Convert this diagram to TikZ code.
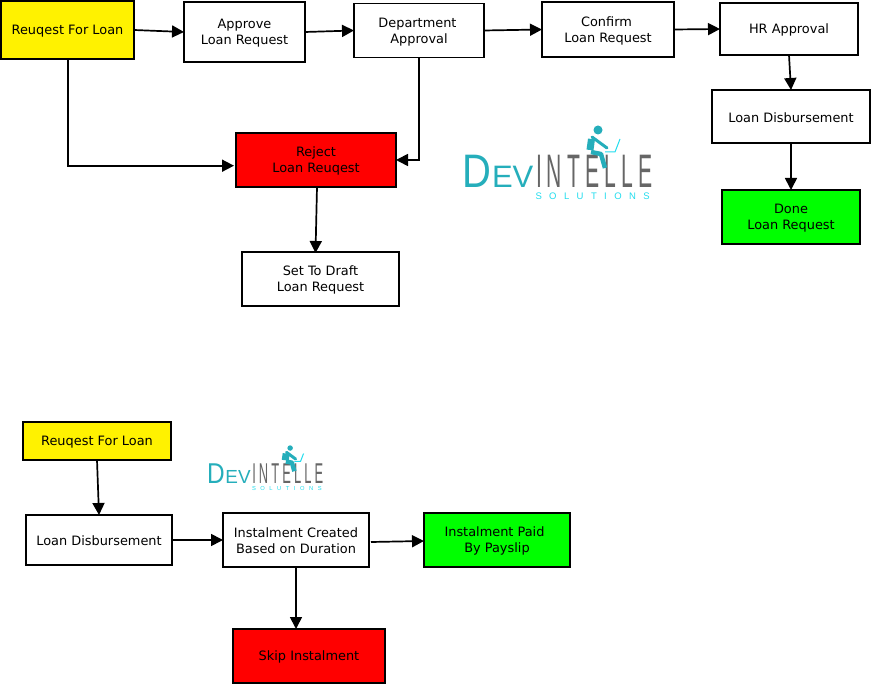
\documentclass[tikz,border=0pt]{standalone}
\usepackage{fontspec}
\setmainfont{DejaVu Sans}
\newfontfamily\logofont{Liberation Sans}
\usetikzlibrary{arrows.meta}
\definecolor{logoteal}{HTML}{25AEBB}
\definecolor{logogrey}{HTML}{666666}
\definecolor{logocyan}{HTML}{22DDEE}
\newcommand{\lowerline}{\rule{0pt}{12pt}}
\tikzset{
  flowbox/.style={draw=black,line width=1.5pt,fill=white,align=center,inner sep=0pt,outer sep=0pt,
    font=\fontsize{12.9}{16}\selectfont,text=black,execute at begin node={\rule{0pt}{11.5pt}}},
  arrowline/.style={draw=black,line width=1.7pt,-{Triangle[length=12pt,width=12pt]}},
  pics/devlogo/.style={code={
    \node[logotext,text=logoteal,anchor=base west,xscale=.85] (#1d) at (-3,63) {\fontsize{47}{47}\selectfont D};
    \node[logotext,text=logoteal,anchor=base west] (#1ev) at (27,63) {\fontsize{31}{31}\selectfont EV};
    \node[logotext,text=logogrey,anchor=base west,xscale=.45] (#1in) at (71,63) {\fontsize{47}{47}\selectfont\addfontfeature{LetterSpace=24}INTELLE};
    \node[logotext,text=logocyan,anchor=base west] (#1sol) at (70.5,75) {\fontsize{9.5}{10}\selectfont\addfontfeature{LetterSpace=78}SOLUTIONS};
    \fill[logoteal] (133,5) circle (4.5);
    \draw[logoteal,line width=7pt,line join=round] (126.5,14) -- (125,25);
    \draw[logoteal,line width=3pt,line cap=round] (127,12) -- (142,23);
    \draw[logoteal,line width=4.5pt,line join=round] (126,27) -- (136,29) -- (140,43);
    \draw[logocyan,line width=1pt] (155,14) -- (150,27) -- (140,27);
  }},
  logotext/.style={inner sep=0pt,outer sep=0pt,transform shape,font=\logofont},
}
\begin{document}
\begin{tikzpicture}[x=1pt,y=-1pt]
\useasboundingbox (0,0) rectangle (871,684);
\fill[white] (0,0) rectangle (871,684);
% upper flow
\node[flowbox,fill=yellow,minimum width=133pt,minimum height=58pt] (req) at (67.5,30) {Reuqest For Loan};
\node[flowbox,minimum width=121pt,minimum height=60pt] (approve) at (244.5,32) {\lowerline Approve\\Loan Request};
\node[flowbox,minimum width=130pt,minimum height=54pt] (dept) at (419,30.5) {\lowerline Department\hspace*{3pt}\\Approval};
\node[flowbox,minimum width=132pt,minimum height=55pt] (confirm) at (608,29.5) {\lowerline Confirm\hspace*{3pt}\\Loan Request};
\node[flowbox,minimum width=138pt,minimum height=52pt] (hr) at (789,29) {HR Approval};
\node[flowbox,minimum width=158pt,minimum height=53pt] (disb) at (791,116.5) {Loan Disbursement};
\node[flowbox,fill=green,minimum width=138pt,minimum height=54pt] (done) at (791,217) {\lowerline Done\\Loan Request};
\node[flowbox,fill=red,minimum width=160pt,minimum height=54pt] (reject) at (316,160) {\lowerline Reject\\Loan Reuqest};
\node[flowbox,minimum width=157pt,minimum height=54pt] (draft) at (320.5,279) {\lowerline Set To Draft\\Loan Request};
% lower flow
\node[flowbox,fill=yellow,minimum width=148pt,minimum height=38pt] (reqb) at (97,441) {Reuqest For Loan};
\node[flowbox,minimum width=146pt,minimum height=50pt] (disbb) at (99,540) {Loan Disbursement};
\node[flowbox,minimum width=146pt,minimum height=54pt] (inst) at (296,540) {\lowerline Instalment Created\\Based on Duration};
\node[flowbox,fill=green,minimum width=146pt,minimum height=54pt] (paid) at (497,540) {\lowerline Instalment Paid\hspace*{5pt}\\By Payslip};
\node[flowbox,fill=red,minimum width=152pt,minimum height=54pt] (skip) at (309,656) {Skip Instalment};
% connectors
\draw[arrowline] (req.east) -- (approve.west);
\draw[arrowline] (approve.east) -- (dept.west);
\draw[arrowline] (dept.east) -- (confirm.west);
\draw[arrowline] (confirm.east) -- (hr.west);
\draw[arrowline] (hr.south) -- (disb.north);
\draw[arrowline] (disb.south) -- (done.north);
\draw[arrowline] ([xshift=.5pt]req.south) |- ([xshift=-2pt,yshift=-5.7pt]reject.west);
\draw[arrowline] (dept.south) |- (reject.east);
\draw[arrowline] ([xshift=1pt]reject.south) -- ([xshift=-5pt,yshift=-1pt]draft.north);
\draw[arrowline] (reqb.south) -- (disbb.north);
\draw[arrowline] (disbb.east) -- (inst.west);
\draw[arrowline] ([xshift=2pt,yshift=-2pt]inst.east) -- ([yshift=-1pt]paid.west);
\draw[arrowline] (inst.south) -- ([xshift=-13pt]skip.north);
% logos
\pic at (465,125) {devlogo=a};
\pic[scale=.61] at (209,445) {devlogo=b};
\end{tikzpicture}
\end{document}
